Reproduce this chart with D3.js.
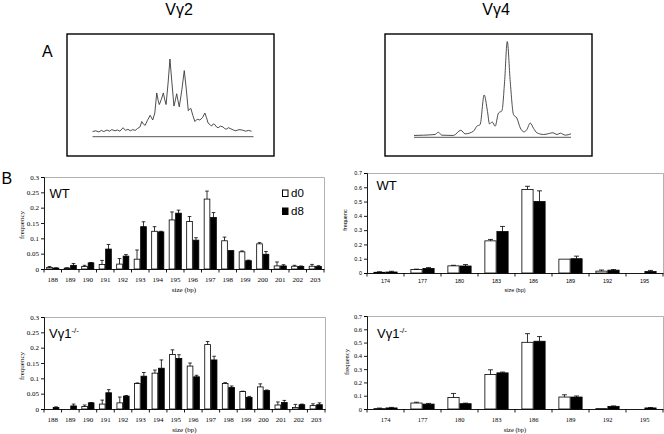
<!DOCTYPE html>
<html><head><meta charset="utf-8">
<script src="https://cdn.jsdelivr.net/npm/d3@7"></script>
<style>html,body{margin:0;padding:0;background:#fff;}svg{display:block;}</style>
</head><body>
<svg id="fig" width="664" height="434"></svg>
<script>
// ---------------- DATA ----------------
const sizesV2 = ["188","189","190","191","192","193","194","195","196","197","198","199","200","201","202","203"];
const sizesV4 = ["174","177","180","183","186","189","192","195"];

const wtV2_d0    = [0.005,0.003,0.008,0.015,0.016,0.032,0.123,0.160,0.155,0.228,0.092,0.056,0.082,0.010,0.009,0.009];
const wtV2_d0err = [0.003,0.001,0.004,0.013,0.018,0.030,0.015,0.026,0.016,0.026,0.012,0.003,0.004,0.013,0.003,0.006];
const wtV2_d8    = [0.003,0.012,0.020,0.065,0.042,0.138,0.121,0.182,0.094,0.168,0.060,0.027,0.048,0.010,0.008,0.008];
const wtV2_d8err = [0.001,0.006,0.001,0.015,0.005,0.016,0.002,0.010,0.008,0.016,0.000,0.002,0.009,0.004,0.002,0.003];

const koV2_d0    = [0.000,0.000,0.008,0.016,0.020,0.083,0.117,0.178,0.140,0.210,0.083,0.057,0.072,0.013,0.005,0.011];
const koV2_d0err = [0.000,0.000,0.005,0.013,0.019,0.002,0.010,0.015,0.010,0.010,0.003,0.001,0.010,0.010,0.010,0.006];
const koV2_d8    = [0.005,0.010,0.020,0.053,0.042,0.107,0.133,0.165,0.105,0.160,0.070,0.038,0.060,0.021,0.014,0.014];
const koV2_d8err = [0.002,0.006,0.001,0.010,0.002,0.012,0.027,0.012,0.005,0.012,0.005,0.003,0.002,0.007,0.002,0.006];

const wtV4_d0    = [0.005,0.025,0.050,0.225,0.585,0.097,0.013,0.000];
const wtV4_d0err = [0.004,0.002,0.004,0.010,0.022,0.000,0.008,0.000];
const wtV4_d8    = [0.007,0.032,0.049,0.290,0.500,0.100,0.020,0.010];
const wtV4_d8err = [0.005,0.006,0.010,0.036,0.075,0.018,0.004,0.008];

const koV4_d0    = [0.003,0.045,0.087,0.260,0.502,0.090,0.003,0.000];
const koV4_d0err = [0.004,0.006,0.030,0.035,0.065,0.017,0.000,0.000];
const koV4_d8    = [0.008,0.037,0.040,0.272,0.510,0.090,0.020,0.008];
const koV4_d8err = [0.004,0.005,0.004,0.006,0.035,0.008,0.003,0.003];

const ticksV2 = [0,0.05,0.1,0.15,0.2,0.25,0.3];
const tickLabelsV2 = ["0","0.05","0.1","0.15","0.2","0.25","0.3"];
const ticksV4 = [0,0.1,0.2,0.3,0.4,0.5,0.6,0.7];
const tickLabelsV4 = ["0","0.1","0.2","0.3","0.4","0.5","0.6","0.7"];

const seriesNames = ["d0","d8"];

// electropherogram traces: [relative position, relative intensity]
const traceV2 = [[0,0.06],[2,0.07],[4,0.055],[5.5,0.075],[7,0.06],[9,0.08],[10.5,0.065],[12,0.085],[14,0.07],[15.5,0.08],
 [17,0.065],[19,0.11],[20.5,0.075],[22,0.09],[23.5,0.07],[25,0.085],[26.5,0.075],[28,0.1],[29.5,0.12],[30.6,0.19],
 [31.5,0.16],[32.7,0.14],[34,0.2],[35.8,0.27],[37.4,0.21],[38.7,0.3],[39.9,0.56],[40.8,0.46],[41.5,0.41],[42.8,0.48],
 [44,0.56],[44.9,0.47],[45.7,0.41],[47,0.7],[48.1,1.0],[49.3,0.7],[50.6,0.39],[51.5,0.47],[52.3,0.55],[53.1,0.46],
 [53.9,0.38],[55.5,0.6],[57,0.85],[58.3,0.6],[59.5,0.33],[60.3,0.35],[61.1,0.36],[62.3,0.27],[63.6,0.19],[65,0.22],
 [66.7,0.21],[68.3,0.24],[69.8,0.3],[70.8,0.24],[71.8,0.17],[73,0.15],[73.9,0.13],[75,0.16],[76,0.15],[77,0.12],
 [78,0.11],[79.5,0.13],[81.1,0.12],[82,0.1],[83,0.09],[84.5,0.11],[86,0.095],[87.5,0.08],[89,0.07],[91,0.085],
 [93,0.08],[95,0.065],[97,0.075],[98.8,0.064]];
const traceV4 = [[0,0.014],[6,0.017],[13.4,0.024],[15.5,0.048],[17.7,0.017],[25.1,0.014],[29.8,0.069],[32.6,0.031],
 [37.9,0.059],[40,0.111],[42.1,0.128],[44.7,0.439],[46.8,0.266],[48.1,0.135],[49.8,0.156],[51.7,0.111],[53.8,0.249],
 [56,0.273],[57.7,0.578],[59.4,1.0],[61.3,0.578],[63.4,0.232],[65.5,0.197],[67.7,0.093],[70.2,0.052],[71.9,0.076],
 [74,0.145],[76.2,0.087],[78.3,0.042],[82.6,0.024],[88.5,0.042],[91.1,0.024],[93.2,0.038],[96.4,0.017],[100,0.031]];

// ---------------- DRAW ----------------
const svg = d3.select("#fig");
const SANS = "'Liberation Sans', Arial, sans-serif";
const SERIF = "'Liberation Serif', 'Times New Roman', serif";

svg.append("rect").attr("width",664).attr("height",434).attr("fill","#fff");

// Panel letters and titles
svg.append("text").attr("x",42).attr("y",57).attr("font-family",SANS).attr("font-size",16).text("A");
svg.append("text").attr("x",1.5).attr("y",184).attr("font-family",SANS).attr("font-size",16).text("B");
svg.append("text").attr("x",179).attr("y",15).attr("text-anchor","middle").attr("font-family",SANS).attr("font-size",16).text("Vγ2");
svg.append("text").attr("x",496).attr("y",15).attr("text-anchor","middle").attr("font-family",SANS).attr("font-size",16).text("Vγ4");

function tracePanel(box, x0, x1, yb, yp, data, curve){
  svg.append("rect").attr("x",box[0]).attr("y",box[1]).attr("width",box[2]).attr("height",box[3])
    .attr("fill","none").attr("stroke","#000").attr("stroke-width",1.4);
  const xs = d3.scaleLinear().domain([0,100]).range([x0,x1]);
  const ys = d3.scaleLinear().domain([0,1]).range([yb,yp]);
  svg.append("line").attr("x1",x0).attr("x2",x1).attr("y1",yb+0.5).attr("y2",yb+0.5).attr("stroke","#444").attr("stroke-width",0.9);
  svg.append("path").datum(data)
    .attr("d", d3.line().x(d=>xs(d[0])).y(d=>ys(d[1])).curve(curve))
    .attr("fill","none").attr("stroke","#3a3a3a").attr("stroke-width",0.9);
}
tracePanel([67,34,207,122], 92.5, 253.5, 136.2, 59, traceV2, d3.curveLinear);
tracePanel([385,34,207,122], 414, 571, 136.8, 41.5, traceV4, d3.curveMonotoneX);

function barChart(c){
  const g = svg.append("g");
  const x = d3.scaleBand().domain(c.cats).range([c.x0,c.x1]).paddingInner(c.pad).paddingOuter(c.pad/2);
  const sub = d3.scaleBand().domain(seriesNames).range([0,x.bandwidth()]);
  const y = d3.scaleLinear().domain([0,c.yMax]).range([c.y1,c.y0]);
  // plot-area border (top/right)
  g.append("path").attr("d",`M${c.x0},${c.y0+0.5}H${c.x1+0.5}V${c.y1}`)
    .attr("fill","none").attr("stroke","#a8a8a8").attr("stroke-width",0.9);
  // bars
  const sets = [{v:c.d0,e:c.d0e,k:"d0",fill:"#fff"},{v:c.d8,e:c.d8e,k:"d8",fill:"#000"}];
  sets.forEach(s=>{
    c.cats.forEach((cat,i)=>{
      const bx = x(cat)+sub(s.k);
      const val = s.v[i];
      if(val>0){
        g.append("rect").attr("x",bx+0.4).attr("y",y(val)).attr("width",sub.bandwidth()-0.8).attr("height",y(0)-y(val))
          .attr("fill",s.fill).attr("stroke","#000").attr("stroke-width",0.8);
      }
      const err = s.e[i];
      if(err>0){
        const cx = bx+sub.bandwidth()/2;
        g.append("line").attr("x1",cx).attr("x2",cx).attr("y1",y(val)).attr("y2",y(val+err)).attr("stroke","#000").attr("stroke-width",0.8);
        g.append("line").attr("x1",cx-c.cap).attr("x2",cx+c.cap).attr("y1",y(val+err)).attr("y2",y(val+err)).attr("stroke","#000").attr("stroke-width",0.8);
      }
    });
  });
  // y axis
  const ya = g.append("g").attr("transform",`translate(${c.x0},0)`)
    .call(d3.axisLeft(y).tickValues(c.ticks).tickFormat((d,i)=>c.tickLabels[i]).tickSizeOuter(0).tickSize(3).tickPadding(2));
  ya.selectAll("text").attr("font-family",c.font).attr("font-size",c.fs).attr("fill","#000");
  ya.selectAll("line,path").attr("stroke","#000").attr("stroke-width",0.9);
  // x axis
  const xa = g.append("g").attr("transform",`translate(0,${c.y1})`)
    .call(d3.axisBottom(x).tickSize(0).tickSizeOuter(0).tickPadding(c.xpad));
  xa.selectAll("text").attr("font-family",c.font).attr("font-size",c.fs).attr("fill","#000");
  xa.select(".domain").attr("stroke","#000").attr("stroke-width",0.9);
  const step = x.step();
  d3.range(c.cats.length+1).forEach(i=>{
    const bx = c.x0 + i*step;
    xa.append("line").attr("x1",bx).attr("x2",bx).attr("y1",0).attr("y2",3.5).attr("stroke","#000").attr("stroke-width",0.9);
  });
  // axis titles
  g.append("text").attr("x",(c.x0+c.x1)/2).attr("y",c.xtY).attr("text-anchor","middle")
    .attr("font-family",c.font).attr("font-size",c.fs).text("size (bp)");
  g.append("text").attr("transform",`translate(${c.ytX},${c.ytY}) rotate(-90)`).attr("text-anchor","middle")
    .attr("font-family",c.font).attr("font-size",c.fs).text(c.yTitle);
  // inset label
  const lab = g.append("text").attr("x",c.labX).attr("y",c.labY).attr("font-family",SANS).attr("font-size",13);
  lab.append("tspan").text(c.label);
  if(c.sup){ lab.append("tspan").attr("dy",-5).attr("font-size",8).text(c.sup); }
}

barChart({cats:sizesV2,d0:wtV2_d0,d0e:wtV2_d0err,d8:wtV2_d8,d8e:wtV2_d8err,yMax:0.3,ticks:ticksV2,tickLabels:tickLabelsV2,
  x0:44,x1:324,y0:177,y1:269,pad:0.26,cap:1.8,font:SERIF,fs:7,xpad:8,xtY:292,ytX:24,ytY:225,yTitle:"frequency",
  label:"WT",labX:49.5,labY:198});
barChart({cats:sizesV4,d0:wtV4_d0,d0e:wtV4_d0err,d8:wtV4_d8,d8e:wtV4_d8err,yMax:0.7,ticks:ticksV4,tickLabels:tickLabelsV4,
  x0:367,x1:663,y0:173,y1:273,pad:0.35,cap:2.5,font:SANS,fs:5.5,xpad:6,xtY:292,ytX:347,ytY:220,yTitle:"frequenc",
  label:"WT",labX:376.5,labY:190});
barChart({cats:sizesV2,d0:koV2_d0,d0e:koV2_d0err,d8:koV2_d8,d8e:koV2_d8err,yMax:0.3,ticks:ticksV2,tickLabels:tickLabelsV2,
  x0:44,x1:325,y0:317,y1:409,pad:0.26,cap:1.8,font:SERIF,fs:7,xpad:8,xtY:432,ytX:24,ytY:366,yTitle:"frequency",
  label:"Vγ1",sup:"-/-",labX:49,labY:338});
barChart({cats:sizesV4,d0:koV4_d0,d0e:koV4_d0err,d8:koV4_d8,d8e:koV4_d8err,yMax:0.7,ticks:ticksV4,tickLabels:tickLabelsV4,
  x0:367,x1:663,y0:316,y1:409,pad:0.35,cap:2.5,font:SERIF,fs:6.5,xpad:8,xtY:432,ytX:349,ytY:362,yTitle:"frequency",
  label:"Vγ1",sup:"-/-",labX:377,labY:338});

// legend (top-left chart)
const leg = svg.append("g");
seriesNames.forEach((n,i)=>{
  const ly = 190 + i*18;
  leg.append("rect").attr("x",282.5).attr("y",ly).attr("width",5.5).attr("height",6.5)
    .attr("fill", i===0?"#fff":"#000").attr("stroke","#000").attr("stroke-width",1);
  leg.append("text").attr("x",291).attr("y",ly+7).attr("font-family",SANS).attr("font-size",11.5).text(n);
});
</script>
</body></html>
